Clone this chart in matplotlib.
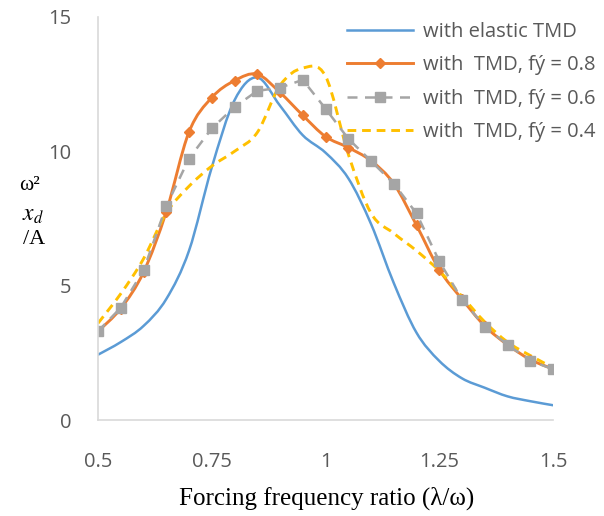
import numpy as np
import matplotlib
matplotlib.use("Agg")
import matplotlib.pyplot as plt
from matplotlib.path import Path
from matplotlib.patches import PathPatch
from matplotlib.lines import Line2D

# ---------------- data ----------------
ratio = [0.50, 0.55, 0.60, 0.65, 0.70, 0.75, 0.80, 0.85, 0.90, 0.95, 1.00,
         1.05, 1.10, 1.15, 1.20, 1.25, 1.30, 1.35, 1.40, 1.45, 1.50]

elastic = [2.43, 2.9, 3.5, 4.5, 6.3, 9.4, 11.9, 12.75, 11.7, 10.6, 9.95,
           9.0, 7.3, 5.1, 3.25, 2.2, 1.55, 1.2, 0.88, 0.7, 0.55]
fy08 = [3.3, 4.15, 5.5, 7.75, 10.72, 12.0, 12.63, 12.87, 12.19, 11.34, 10.55,
        10.14, 9.65, 8.8, 7.25, 5.6, 4.5, 3.5, 2.8, 2.25, 1.9]
fy06 = [3.3, 4.18, 5.57, 7.96, 9.73, 10.85, 11.65, 12.25, 12.37, 12.66, 11.59,
        10.47, 9.64, 8.8, 7.69, 5.91, 4.48, 3.48, 2.8, 2.21, 1.89]
fy04 = [3.6, 4.7, 6.0, 7.7, 8.7, 9.45, 10.0, 10.7, 12.45, 13.1, 12.8,
        9.9, 7.7, 6.95, 6.3, 5.55, 4.6, 3.65, 2.9, 2.4, 1.95]

labels = ["with elastic TMD", "with  TMD, f\u00fd = 0.8",
          "with  TMD, f\u00fd = 0.6", "with  TMD, f\u00fd = 0.4"]

xticks = [0.5, 0.75, 1.0, 1.25, 1.5]
xticklabels = ["0.5", "0.75", "1", "1.25", "1.5"]
yticks = [0, 5, 10, 15]

BLUE = "#5B9BD5"
ORANGE = "#ED7D31"
GREY = "#A5A5A5"
YELLOW = "#FFC000"

SANS = ["Open Sans", "DejaVu Sans"]
SERIF = ["Liberation Serif", "DejaVu Serif"]


def smooth_path(xs, ys):
    # excel-like smoothed line: catmull-rom segments as cubic beziers
    pts = np.column_stack([xs, ys])
    n = len(pts)
    verts = [pts[0]]
    codes = [Path.MOVETO]
    for i in range(n - 1):
        p0 = pts[i - 1] if i > 0 else pts[i]
        p1 = pts[i]
        p2 = pts[i + 1]
        p3 = pts[i + 2] if i + 2 < n else pts[i + 1]
        c1 = p1 + (p2 - p0) / 6.0
        c2 = p2 - (p3 - p1) / 6.0
        verts += [c1, c2, p2]
        codes += [Path.CURVE4] * 3
    return Path(verts, codes)


def main():
    plt.rcParams["mathtext.fontset"] = "stix"
    fig = plt.figure(figsize=(6.04, 5.16), dpi=100)
    ax = fig.add_axes([98 / 604, 96 / 516, 455 / 604, 403 / 516])

    # series 1 - blue smooth
    ax.add_patch(PathPatch(smooth_path(ratio, elastic), fill=False,
                           edgecolor=BLUE, lw=1.8, capstyle="round"))
    # series 2 - orange smooth with diamonds
    ax.add_patch(PathPatch(smooth_path(ratio, fy08), fill=False,
                           edgecolor=ORANGE, lw=2.1, capstyle="round"))
    ax.plot(ratio, fy08, ls="none", marker="D", ms=5, color=ORANGE)
    # series 3 - grey dashed with squares
    ax.plot(ratio, fy06, color=GREY, lw=1.8, dashes=(4, 3),
            marker="s", ms=7.5)
    # series 4 - yellow dashed smooth
    ax.add_patch(PathPatch(smooth_path(ratio, fy04), fill=False,
                           edgecolor=YELLOW, lw=2.1, linestyle=(0, (3, 2))))

    ax.set_xlim(0.5, 1.5)
    ax.set_ylim(0, 15)
    ax.set_xticks(xticks)
    ax.set_xticklabels(xticklabels)
    ax.set_yticks(yticks)
    ax.tick_params(length=0, labelsize=14.5, colors="#595959")
    ax.tick_params(axis="x", pad=23)
    ax.tick_params(axis="y", pad=19)
    for lab in ax.get_xticklabels() + ax.get_yticklabels():
        lab.set_fontfamily(SANS)
    for s in ["top", "right"]:
        ax.spines[s].set_visible(False)
    for s in ["left", "bottom"]:
        ax.spines[s].set_color("#D9D9D9")
        ax.spines[s].set_linewidth(1.2)

    handles = [
        Line2D([], [], color=BLUE, lw=1.8),
        Line2D([], [], color=ORANGE, lw=2.1, marker="D", ms=5),
        Line2D([], [], color=GREY, lw=1.8, dashes=(4, 3), marker="s", ms=7.5),
        Line2D([], [], color=YELLOW, lw=2.1, dashes=(3, 2)),
    ]
    leg = fig.legend(handles, labels, loc="upper left",
                     bbox_to_anchor=(347 / 604, 1 - 22 / 516),
                     frameon=False, borderpad=0, borderaxespad=0,
                     handlelength=3.3, handletextpad=0.45, labelspacing=0.66,
                     prop={"family": SANS, "size": 14.5})
    for t in leg.get_texts():
        t.set_color("#595959")

    fig.text(327 / 604, 1 - 498 / 516, "Forcing frequency ratio (\u03bb/\u03c9)",
             ha="center", va="center", fontsize=18, family=SERIF)

    fig.text(30 / 604, 1 - 186 / 516, "\u03c9\u00b2", ha="center", va="center",
             fontsize=15.5, family=SERIF)
    fig.text(33 / 604, 1 - 214 / 516, "$x_d$", ha="center", va="center",
             fontsize=17)
    fig.text(34 / 604, 1 - 240 / 516, "/A", ha="center", va="center",
             fontsize=16, family=SERIF)

    fig.savefig("out.png", dpi=100)


if __name__ == "__main__":
    main()
